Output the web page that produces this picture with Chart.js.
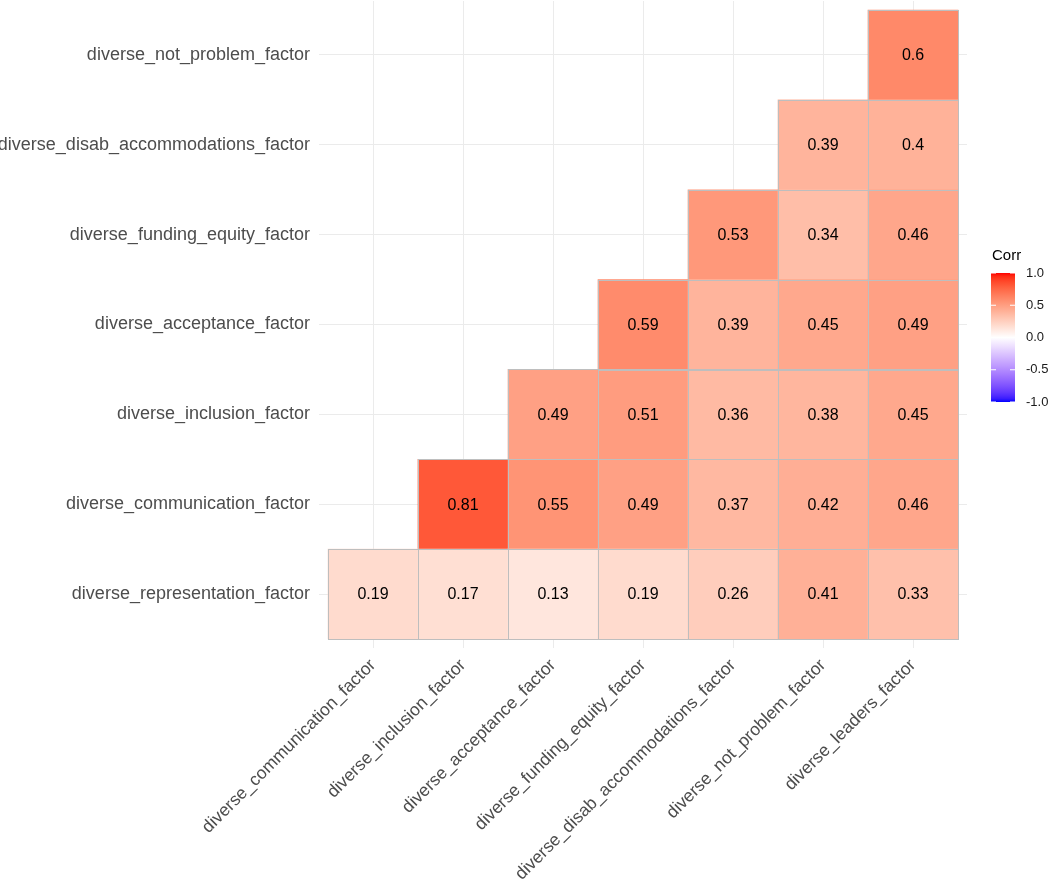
<!DOCTYPE html>
<html>
<head>
<meta charset="utf-8">
<script src="https://cdn.jsdelivr.net/npm/chart.js@4.4.1/dist/chart.umd.min.js"></script>
<style>
html,body{margin:0;padding:0;background:#fff}
</style>
</head>
<body>
<canvas id="corr" width="1050" height="884"></canvas>
<script>
// columns (x) left to right
const colLabels = [
  "diverse_communication_factor",
  "diverse_inclusion_factor",
  "diverse_acceptance_factor",
  "diverse_funding_equity_factor",
  "diverse_disab_accommodations_factor",
  "diverse_not_problem_factor",
  "diverse_leaders_factor"
]

// rows (y) bottom to top
const rowLabels = [
  "diverse_representation_factor",
  "diverse_communication_factor",
  "diverse_inclusion_factor",
  "diverse_acceptance_factor",
  "diverse_funding_equity_factor",
  "diverse_disab_accommodations_factor",
  "diverse_not_problem_factor"
]

// correlations, one array per row, null = empty cell
const rowRepresentation = [0.19, 0.17, 0.13, 0.19, 0.26, 0.41, 0.33]
const rowCommunication  = [null, 0.81, 0.55, 0.49, 0.37, 0.42, 0.46]
const rowInclusion      = [null, null, 0.49, 0.51, 0.36, 0.38, 0.45]
const rowAcceptance     = [null, null, null, 0.59, 0.39, 0.45, 0.49]
const rowFundingEquity  = [null, null, null, null, 0.53, 0.34, 0.46]
const rowDisabAccom     = [null, null, null, null, null, 0.39, 0.40]
const rowNotProblem     = [null, null, null, null, null, null, 0.60]

const legendBreaks = [1.0, 0.5, 0.0, -0.5, -1.0]

const rows = [rowRepresentation, rowCommunication, rowInclusion, rowAcceptance,
  rowFundingEquity, rowDisabAccom, rowNotProblem]

// gradient2 style colours: blue - white - red, mixed in Lab space
const WHITE = [100, 0, 0]
const RED = [53.24, 80.09, 67.20]
const BLUE = [32.30, 79.19, -107.86]

function labToRgb(L, a, b){
  let fy = (L + 16) / 116
  let fx = fy + a / 500
  let fz = fy - b / 200
  const inv = f => { const f3 = f*f*f; return f3 > 0.008856 ? f3 : (f - 16/116) / 7.787 }
  const X = 0.95047 * inv(fx), Y = inv(fy), Z = 1.08883 * inv(fz)
  let r = 3.2406*X - 1.5372*Y - 0.4986*Z
  let g = -0.9689*X + 1.8758*Y + 0.0415*Z
  let bl = 0.0557*X - 0.2040*Y + 1.0570*Z
  const gam = c => {
    c = Math.min(1, Math.max(0, c))
    c = c <= 0.0031308 ? 12.92*c : 1.055*Math.pow(c, 1/2.4) - 0.055
    return Math.round(c*255)
  }
  return "rgb(" + gam(r) + "," + gam(g) + "," + gam(bl) + ")"
}

function corrColor(v){
  const end = v >= 0 ? RED : BLUE
  const t = Math.min(1, Math.abs(v))
  return labToRgb(
    WHITE[0] + (end[0]-WHITE[0])*t,
    WHITE[1] + (end[1]-WHITE[1])*t,
    WHITE[2] + (end[2]-WHITE[2])*t
  )
}

const datasets = rows.map((vals, i) => {
  const cells = []
  vals.forEach((v, j) => {
    if (v !== null) cells.push({x: j, y: [i - 0.5, i + 0.5], v: v})
  })
  return {
    label: rowLabels[i],
    data: cells,
    backgroundColor: cells.map(c => corrColor(c.v)),
    borderWidth: 0,
    barPercentage: 1,
    categoryPercentage: 1,
    grouped: false
  }
})

const axisFont = {family: "'Liberation Sans', Arial, sans-serif", size: 18}
const xFont = {family: "'Liberation Sans', Arial, sans-serif", size: 17.5}

// cell outlines + numbers
const cellText = {
  id: "cellText",
  afterDatasetsDraw(chart){
    const c = chart.ctx
    c.save()
    c.strokeStyle = "#bebebe"
    c.lineWidth = 1
    c.fillStyle = "#000"
    c.font = "16px 'Liberation Sans', Arial, sans-serif"
    c.textAlign = "center"
    c.textBaseline = "middle"
    chart.data.datasets.forEach((ds, di) => {
      chart.getDatasetMeta(di).data.forEach((el, k) => {
        const p = el.getProps(["x", "y", "base", "width"], true)
        const top = Math.min(p.y, p.base)
        const h = Math.abs(p.base - p.y)
        const left = p.x - p.width / 2
        c.strokeRect(Math.round(left) + 0.5, Math.round(top) + 0.5, Math.round(p.width), Math.round(h))
        c.fillText(String(ds.data[k].v), p.x, top + h / 2 + 1)
      })
    })
    c.restore()
  }
}

// colourbar legend on the right
const colorBar = {
  id: "colorBar",
  afterDraw(chart){
    const c = chart.ctx
    const x0 = chart.chartArea.right + 24
    const w = 24
    const y0 = 273, y1 = 402
    c.save()
    c.fillStyle = "#000"
    c.font = "15px 'Liberation Sans', Arial, sans-serif"
    c.textAlign = "left"
    c.textBaseline = "middle"
    c.fillText("Corr", x0 + 1, 256)
    const grad = c.createLinearGradient(0, y0, 0, y1)
    for (let s = 0; s <= 40; s++){
      const v = 1 - s / 20
      grad.addColorStop(s / 40, corrColor(v))
    }
    c.fillStyle = grad
    c.fillRect(x0, y0, w, y1 - y0)
    c.font = "13px 'Liberation Sans', Arial, sans-serif"
    legendBreaks.forEach(b => {
      const y = y0 + (1 - b) / 2 * (y1 - y0)
      c.strokeStyle = "#fff"
      c.lineWidth = 1
      c.beginPath()
      c.moveTo(x0, y); c.lineTo(x0 + 5, y)
      c.moveTo(x0 + w - 5, y); c.lineTo(x0 + w, y)
      c.stroke()
      c.fillStyle = "#1a1a1a"
      c.fillText(b.toFixed(1), x0 + w + 11, y)
    })
    c.restore()
  }
}

function noPad(s){
  s.paddingTop = 0
  s.paddingBottom = 0
  s.paddingLeft = 0
  s.paddingRight = 0
}

new Chart(document.getElementById("corr"), {
  type: "bar",
  data: {datasets: datasets},
  plugins: [cellText, colorBar],
  options: {
    responsive: false,
    animation: false,
    devicePixelRatio: 1,
    layout: {padding: {top: 1, right: 83, bottom: 0, left: 0}},
    plugins: {legend: {display: false}, tooltip: {enabled: false}},
    scales: {
      x: {
        type: "linear",
        offset: false,
        min: -0.6,
        max: 6.6,
        afterBuildTicks: axis => { axis.ticks = colLabels.map((l, i) => ({value: i})) },
        afterFit: s => { s.height = 236; noPad(s) },
        ticks: {
          autoSkip: false,
          maxRotation: 45,
          minRotation: 45,
          padding: 7,
          color: "#4d4d4d",
          font: xFont,
          callback: v => colLabels[v]
        },
        grid: {color: "#ebebeb", lineWidth: 1, drawTicks: false, offset: false},
        border: {display: false}
      },
      y: {
        type: "linear",
        offset: false,
        min: -0.6,
        max: 6.6,
        afterBuildTicks: axis => { axis.ticks = rowLabels.map((l, i) => ({value: i})) },
        afterFit: s => { s.width = 319; noPad(s) },
        ticks: {
          autoSkip: false,
          padding: 9,
          color: "#4d4d4d",
          font: axisFont,
          callback: v => rowLabels[v]
        },
        grid: {color: "#ebebeb", lineWidth: 1, drawTicks: false},
        border: {display: false}
      }
    }
  }
})
</script>
</body>
</html>
